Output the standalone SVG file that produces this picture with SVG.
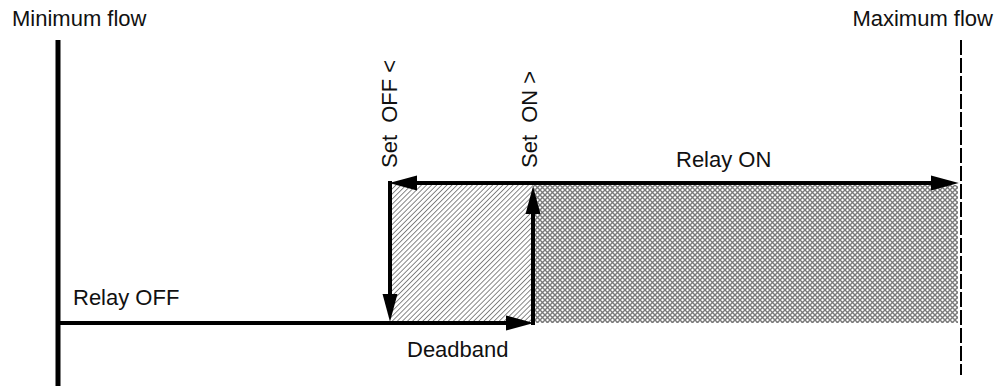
<svg xmlns="http://www.w3.org/2000/svg" width="997" height="386" viewBox="0 0 997 386">
<style>
text{font-family:"Liberation Sans",Arial,sans-serif;font-size:22px;fill:#111;white-space:pre}
.axis{stroke:#000;stroke-width:5;fill:none}
.arr{stroke:#000;stroke-width:4;fill:none}
</style>
<defs>
<marker id="ah" markerUnits="userSpaceOnUse" markerWidth="28" markerHeight="16" refX="16" refY="7" orient="auto-start-reverse" viewBox="0 0 26 14">
<path d="M0,0 L26,7 L0,14 z" fill="#000"/>
</marker>
<pattern id="hatch" patternUnits="userSpaceOnUse" width="3.6" height="3.6" patternTransform="rotate(45)">
<rect width="3.6" height="3.6" fill="#fff"/>
<line x1="0" y1="0" x2="0" y2="3.6" stroke="#555" stroke-width="1.4"/>
</pattern>
<pattern id="cross" patternUnits="userSpaceOnUse" width="5" height="5">
<rect width="5" height="5" fill="#fff"/>
<path d="M0,0 L5,5 M5,0 L0,5" stroke="#7a7a7a" stroke-width="1.4"/>
</pattern>
</defs>
<g id="deadband-area"><rect x="390" y="183" width="143" height="140" fill="url(#hatch)"/></g>
<g id="relay-on-area"><rect x="533" y="185" width="425" height="138" fill="url(#cross)"/></g>
<g id="min-axis"><line class="axis" x1="58" y1="40" x2="58" y2="386"/></g>
<g id="max-axis"><line x1="961" y1="40" x2="961" y2="375" stroke="#000" stroke-width="2" stroke-dasharray="15,3"/></g>
<g id="connectors">
<line class="arr" x1="58" y1="323" x2="523" y2="323" marker-end="url(#ah)"/>
<line class="arr" x1="400" y1="183" x2="948" y2="183" marker-start="url(#ah)" marker-end="url(#ah)"/>
<line class="arr" x1="390" y1="181" x2="390" y2="311" marker-end="url(#ah)"/>
<line class="arr" x1="533" y1="325" x2="533" y2="197" marker-end="url(#ah)"/>
</g>
<g id="labels">
<text x="12" y="26">Minimum flow</text>
<text x="993" y="26" text-anchor="end">Maximum flow</text>
<text x="73" y="305">Relay OFF</text>
<text x="407" y="357">Deadband</text>
<text x="676" y="167">Relay ON</text>
<text transform="translate(397,168) rotate(-90)">Set  OFF &lt;</text>
<text transform="translate(537,168) rotate(-90)">Set  ON &gt;</text>
</g>
</svg>
